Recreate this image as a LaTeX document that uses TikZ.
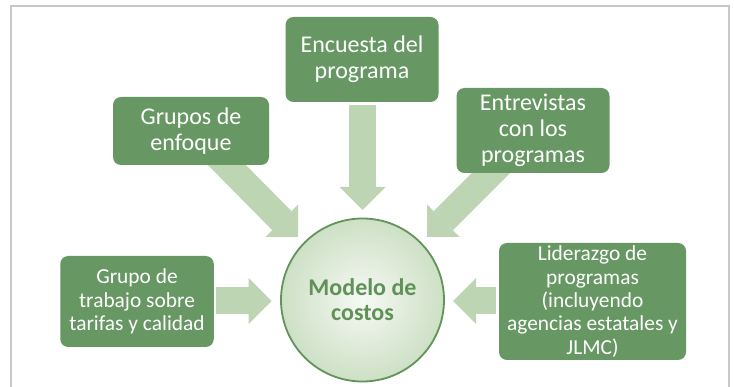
\documentclass[tikz,border=0pt]{standalone}
\usepackage{fontspec}
\setmainfont{Carlito}
\usetikzlibrary{arrows.meta}
\definecolor{boxgreen}{RGB}{103,152,99}
\definecolor{arrowgreen}{RGB}{189,213,178}
\definecolor{ringgreen}{RGB}{98,148,90}
\definecolor{txtgreen}{RGB}{95,145,88}
\definecolor{circin}{RGB}{246,249,244}
\definecolor{circout}{RGB}{205,224,197}
\definecolor{framegray}{RGB}{200,200,200}
\tikzset{
  gbox/.style={draw=none, fill=boxgreen, rounded corners=8pt, text=white, align=center, inner sep=2pt},
  bigtxt/.style={font=\fontsize{24}{26}\selectfont},
  smalltxt/.style={font=\fontsize{21.4}{23.3}\selectfont},
  blockarrow/.style={draw=arrowgreen, line width=27pt, line cap=butt,
    -{Triangle[width=46pt,length=23pt,line width=0pt,fill=arrowgreen]}},
}
\begin{document}
\begin{tikzpicture}[x=1pt,y=-1pt]
\clip (0,0) rectangle (734,387);
\fill[white] (0,0) rectangle (734,387);
\draw[framegray, line width=2pt] (11,6) rectangle (729,420);

% arrow coordinates
\coordinate (a1s) at (362.5,105);  \coordinate (a1e) at (362.5,210);
\coordinate (a2s) at (215,153);    \coordinate (a2e) at (298,237);
\coordinate (a3s) at (502,162);    \coordinate (a3e) at (427,237);
\coordinate (a4s) at (216,301);    \coordinate (a4e) at (271.7,301);
\coordinate (a5s) at (495.5,301);  \coordinate (a5e) at (453,301);

\draw[blockarrow] (a1s) -- (a1e);
\draw[blockarrow] (a2s) -- (a2e);
\draw[blockarrow] (a3s) -- (a3e);
\draw[blockarrow] (a4s) -- (a4e);
\draw[blockarrow] (a5s) -- (a5e);

% boxes
\node[gbox, bigtxt, minimum width=153pt, minimum height=85pt] (enc) at (362,59.5) {Encuesta del\\programa};
\node[gbox, bigtxt, minimum width=156pt, minimum height=68pt] (grp) at (191,131) {Grupos de\\enfoque};
\node[gbox, bigtxt, minimum width=153pt, minimum height=85pt] (ent) at (533,130.5) {Entrevistas\\con los\\programas};
\node[gbox, smalltxt, minimum width=153.5pt, minimum height=91pt] (tra) at (137,301.5) {Grupo de\\trabajo sobre\\tarifas y calidad};
\node[gbox, smalltxt, minimum width=187pt, minimum height=117pt] (lid) at (592.5,301.5) {Liderazgo de\\programas\\(incluyendo\\agencias estatales y\\JLMC)};

% central circle
\node[circle, draw=ringgreen, line width=1.8pt, inner color=circin, outer color=circout,
      minimum size=163pt, inner sep=0pt, align=center, text=txtgreen,
      font=\fontsize{24}{25}\selectfont\bfseries] (mod) at (362.5,300) {Modelo de\\costos};
\end{tikzpicture}
\end{document}
